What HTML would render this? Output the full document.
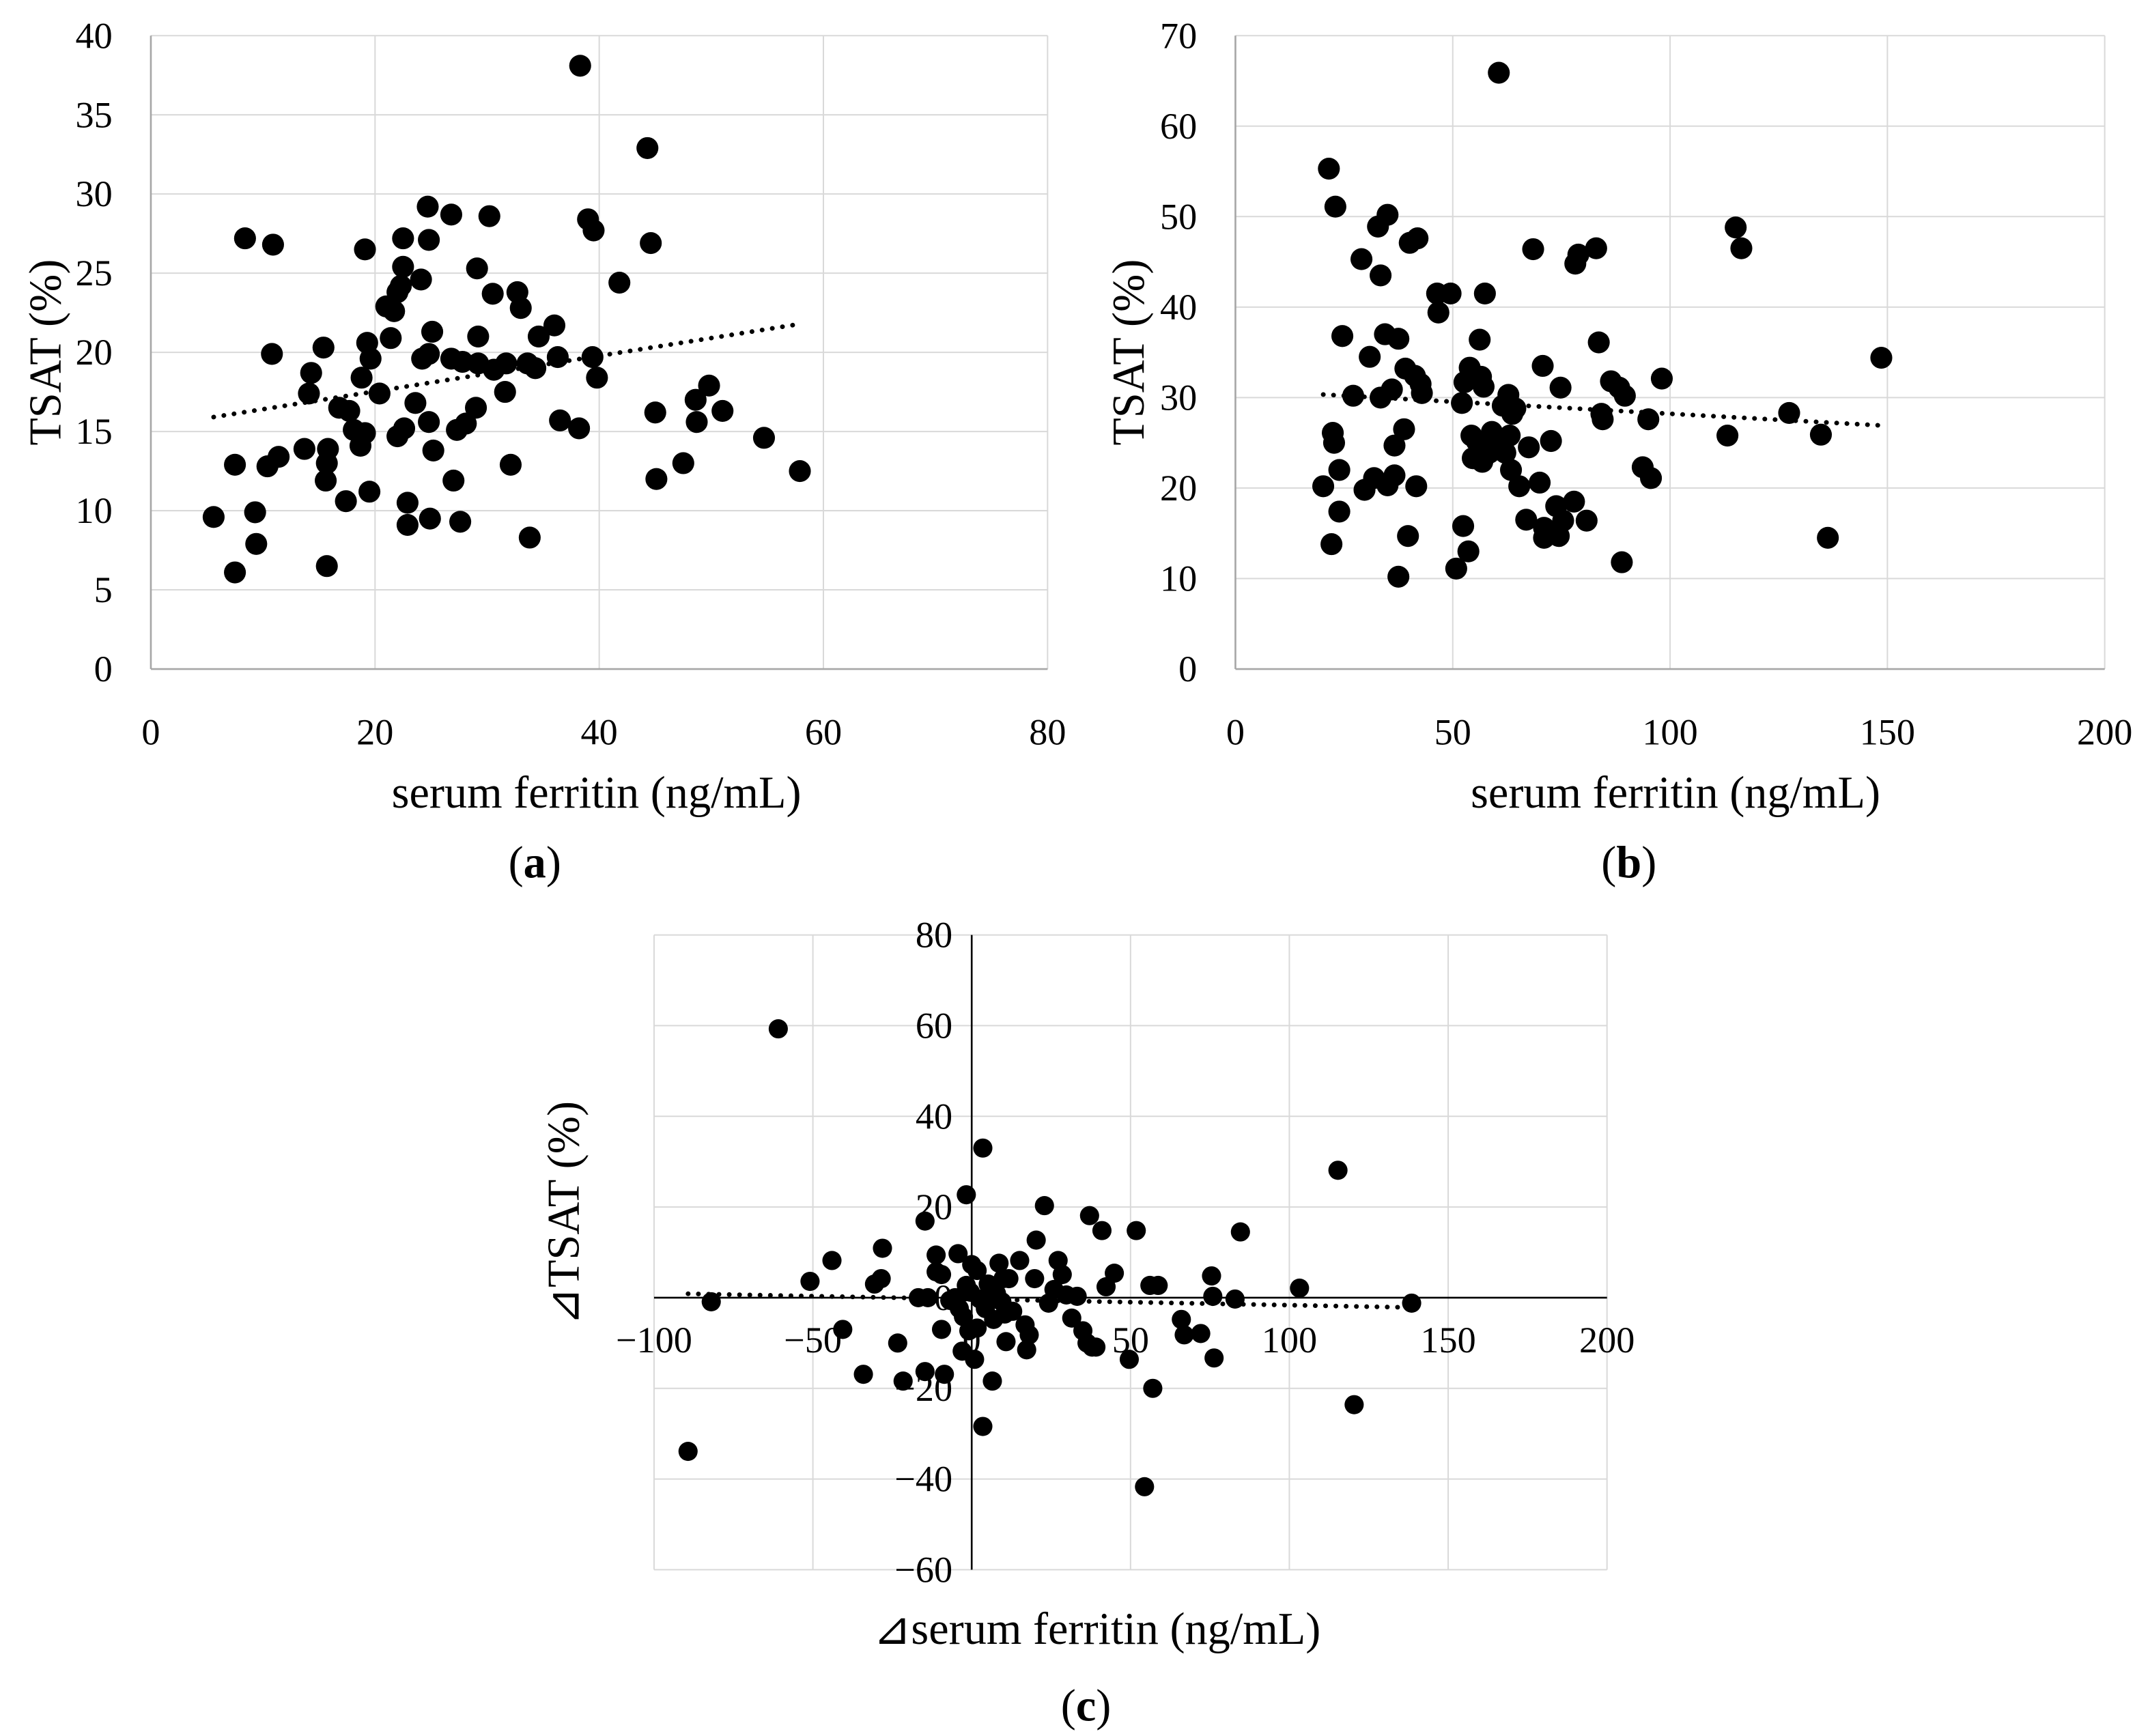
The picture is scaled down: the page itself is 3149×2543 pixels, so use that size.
<!DOCTYPE html>
<html><head><meta charset="utf-8"><style>
html,body{margin:0;padding:0;background:#fff}
svg{display:block;font-family:"Liberation Serif",serif}
</style></head><body>
<svg id="fig" width="3149" height="2543" viewBox="0 0 1568 1266.3" xmlns="http://www.w3.org/2000/svg"></svg>
<script>
// Panel (a) data
const aX=[5.6,7.5,7.5,8.4,9.3,9.4,10.4,10.8,10.9,11.4,13.7,14.1,14.3,15.4,15.6,15.7,15.8,15.7,16.8,17.4,17.7,18.1,18.7,18.8,19.1,19.1,19.3,19.6,19.5,20.4,21.0,21.4,21.7,22.0,22.0,22.3,22.5,22.5,22.6,22.9,22.9,23.6,24.1,24.2,24.7,24.8,24.8,24.8,24.9,25.1,25.2,26.8,26.8,27.0,27.3,27.6,27.8,28.1,29.0,29.1,29.2,29.2,30.2,30.5,30.6,31.6,31.7,32.1,32.7,33.0,33.6,33.8,34.3,34.6,36.0,36.3,36.5,38.3,38.2,39.0,39.5,39.4,39.8,41.8,44.3,44.6,45.0,45.1,47.5,48.6,48.7,49.8,51.0,54.7,57.9];
const aY=[9.6,6.1,12.9,27.2,9.9,7.9,12.8,19.9,26.8,13.4,13.9,17.4,18.7,20.3,11.9,13.0,13.9,6.5,16.5,10.6,16.3,15.1,14.1,18.4,14.9,26.5,20.6,19.6,11.2,17.4,22.9,20.9,22.6,23.8,14.7,24.2,27.2,25.4,15.2,10.5,9.1,16.8,24.6,19.6,29.2,27.1,15.6,19.9,9.5,21.3,13.8,28.7,19.6,11.9,15.1,9.3,19.4,15.5,16.5,25.3,21.0,19.3,28.6,23.7,18.9,17.5,19.3,12.9,23.8,22.8,19.3,8.3,19.0,21.0,21.7,19.7,15.7,38.1,15.2,28.4,27.7,19.7,18.4,24.4,32.9,26.9,16.2,12.0,13.0,17.0,15.6,17.9,16.3,14.6,12.5];
const aXTicks=[0,20,40,60,80];
const aYTicks=[0,5,10,15,20,25,30,35,40];
// Panel (b) data
const bX=[20.2,21.5,22.1,22.4,22.7,23.0,23.9,23.9,24.6,27.1,29.0,29.7,30.9,31.9,32.8,33.4,33.4,34.4,35.0,35.0,36.0,36.6,36.6,37.5,37.5,38.8,39.1,39.7,40.1,41.3,41.6,41.9,42.6,42.9,46.4,46.7,49.5,50.8,52.1,52.4,52.7,53.6,53.9,54.3,54.6,55.5,56.2,56.5,56.8,57.1,57.4,57.4,58.4,59.0,59.6,60.6,61.5,62.1,62.8,63.1,63.4,63.7,64.4,65.3,66.9,67.5,68.5,70.0,70.7,71.0,71.0,72.6,73.8,74.4,74.8,75.4,77.9,78.2,78.9,80.8,83.0,83.6,84.2,84.5,86.4,88.3,88.9,89.6,93.7,95.0,95.6,98.1,113.2,115.1,116.4,127.4,134.7,136.3,148.6];
const bY=[20.2,55.3,13.8,26.1,25.0,51.1,22.0,17.4,36.8,30.2,45.3,19.8,34.5,21.1,48.9,43.5,30.0,37.0,50.2,20.3,30.9,24.7,21.4,36.5,10.2,26.5,33.2,14.7,47.1,32.4,20.2,47.6,31.5,30.5,41.5,39.4,41.5,11.1,29.4,15.8,31.7,13.0,33.3,25.8,23.3,25.2,36.4,32.3,22.9,31.2,41.5,25.0,23.9,26.2,24.4,65.9,29.1,23.9,30.3,25.8,22.0,28.2,28.8,20.2,16.5,24.5,46.4,20.6,33.5,14.5,15.6,25.2,18.0,14.7,31.1,16.4,18.5,44.8,45.8,16.4,46.5,36.1,28.2,27.6,31.8,31.1,11.8,30.2,22.3,27.6,21.1,32.1,25.8,48.8,46.5,28.3,25.9,14.5,34.4];
const bXTicks=[0,50,100,150,200];
const bYTicks=[0,10,20,30,40,50,60,70];
// Panel (c) data
const cX=[-89.3,-82,-60.9,-50.9,-44,-40.6,-34.1,-30.6,-28.5,-28.1,-23.3,-21.6,-16.8,-14.7,-14.7,-13.8,-11.2,-11.2,-9.5,-8.6,-9.5,-6.9,-5.2,-4.3,-3.9,-3.0,-2.6,-1.7,-1.7,-0.9,-0.4,0,0.9,1.7,1.7,2.6,3.5,3.5,4.3,5.2,5.6,6.5,6.9,7.8,8.6,9.5,9.9,10.4,10.8,11.7,12.9,15.1,16.8,17.3,18.1,19.8,20.3,22.9,24.2,25.9,27.2,28.5,29.8,31.5,33.2,35.0,36.3,37.1,37.9,39.1,41,42.3,44.9,49.6,51.8,54.4,56.1,57,58.7,66,66.9,72.1,75.5,75.9,76.3,82.9,84.6,103.2,115.3,120.4,138.5];
const cY=[-33.9,-0.9,59.3,3.6,8.2,-7.0,-16.9,3.0,4.2,10.9,-10.0,-18.4,0,16.9,-16.3,0,9.4,5.7,5.1,-16.9,-7.0,-0.6,0,9.7,-2.4,-11.8,-4.2,2.7,22.7,-7.3,1.2,7.3,-13.6,6.0,-6.7,-0.3,33.0,-28.4,-2.4,3.0,0.3,-18.4,-4.8,0.9,7.6,-0.9,4.2,-3.6,-9.7,4.2,-3.0,8.2,-6.0,-11.5,-8.2,4.2,12.7,20.3,-1.2,1.8,8.2,5.1,0.6,-4.5,0.3,-7.3,-10.0,18.1,-10.9,-10.9,14.8,2.4,5.4,-13.6,14.8,-41.7,2.7,-20,2.7,-4.8,-8.2,-7.9,4.8,0.3,-13.3,-0.3,14.5,2.1,28.1,-23.6,-1.2];
const cXTicks=[-100,-50,0,50,100,150,200];
const cYTicks=[-60,-40,-20,0,20,40,60,80];
const cXTickLabels=['\u2212100','\u221250','0','50','100','150','200'];
const cYTickLabels=['\u221260','\u221240','\u221220','0','20','40','60','80'];

const NS='http://www.w3.org/2000/svg';
const svg=document.getElementById('fig');
function mk(tag,attrs,parent,text){const e=document.createElementNS(NS,tag);for(const k in attrs)e.setAttribute(k,attrs[k]);if(text!==undefined)e.textContent=text;(parent||svg).appendChild(e);return e;}
function fit(xs,ys){const n=xs.length;let sx=0,sy=0,sxx=0,sxy=0;for(let i=0;i<n;i++){sx+=xs[i];sy+=ys[i];sxx+=xs[i]*xs[i];sxy+=xs[i]*ys[i];}const m=(n*sxy-sx*sy)/(n*sxx-sx*sx);return {m,b:(sy-m*sx)/n};}

function panel(o){
  const g=mk('g',{},svg);
  
  
  const sx=v=>o.x0+(v-o.xmin)/(o.xmax-o.xmin)*(o.x1-o.x0);
  const sy=v=>o.y0-(v-o.ymin)/(o.ymax-o.ymin)*(o.y0-o.y1);
  o.xt.forEach(t=>{const l=mk('line',{x1:sx(t),x2:sx(t),y1:o.y0,y2:o.y1,stroke:'#d9d9d9','stroke-width':1},g);});
  o.yt.forEach(t=>{const l=mk('line',{x1:o.x0,x2:o.x1,y1:sy(t),y2:sy(t),stroke:'#d9d9d9','stroke-width':1},g);});
  const ax0=o.cross?sx(0):o.x0, ay0=o.cross?sy(0):o.y0;
  const xa=mk('line',{x1:o.x0,x2:o.x1,y1:ay0,y2:ay0,stroke:o.axisColor,'stroke-width':1.3},g);
  
  const ya=mk('line',{x1:ax0,x2:ax0,y1:o.y0,y2:o.y1,stroke:o.axisColor,'stroke-width':1.3},g);
  
  o.xt.forEach((t,i)=>{const e=mk('text',{x:sx(t),y:ay0+o.xlabOff,'text-anchor':'middle','font-size':27,fill:'#000'},g,o.xl?o.xl[i]:String(t));});
  o.yt.forEach((t,i)=>{const e=mk('text',{x:ax0-o.ylabOff,y:sy(t)+9,'text-anchor':'end','font-size':27,fill:'#000'},g,o.yl?o.yl[i]:String(t));});
  const f=fit(o.xs,o.ys);const mn=Math.min(...o.xs),mx=Math.max(...o.xs);
  const tl=mk('line',{x1:sx(mn),y1:sy(f.m*mn+f.b),x2:sx(mx),y2:sy(f.m*mx+f.b),stroke:'#000','stroke-width':3.4,'stroke-dasharray':'0.1 7.4','stroke-linecap':'round'},g);
  
  o.xs.forEach((x,i)=>{const c=mk('circle',{cx:sx(x),cy:sy(o.ys[i]),r:o.r,fill:'#000'},g);});
  const xt=mk('text',{x:o.xtx,y:o.xty,'text-anchor':'middle','font-size':33,fill:'#000'},g,o.xtitle);
  
  const yt=mk('text',{x:0,y:0,'text-anchor':'middle','font-size':33,fill:'#000',transform:`translate(${o.ytx},${o.yty}) rotate(-90)`},g,o.ytitle);
  
  const cap=mk('text',{x:o.capx,y:o.capy,'text-anchor':'middle','font-size':33,fill:'#000'},g);
  
  mk('tspan',{},cap,'(');mk('tspan',{'font-weight':'bold'},cap,o.cap);mk('tspan',{},cap,')');
}
panel({name:'panel-a',xs:aX,ys:aY,xt:aXTicks,yt:aYTicks,xmin:0,xmax:80,ymin:0,ymax:40,x0:110,x1:764,y0:488,y1:26,axisColor:'#a6a6a6',xlabOff:55,ylabOff:28,r:8,xtitle:'serum ferritin (ng/mL)',xtx:435,xty:589,ytitle:'TSAT (%)',ytx:44,yty:257,cap:'a',capx:390,capy:640});
panel({name:'panel-b',xs:bX,ys:bY,xt:bXTicks,yt:bYTicks,xmin:0,xmax:200,ymin:0,ymax:70,x0:901,x1:1535,y0:488,y1:26,axisColor:'#a6a6a6',xlabOff:55,ylabOff:28,r:8,xtitle:'serum ferritin (ng/mL)',xtx:1222,xty:589,ytitle:'TSAT (%)',ytx:834,yty:257,cap:'b',capx:1188,capy:640});
panel({name:'panel-c',xs:cX,ys:cY,xt:cXTicks,yt:cYTicks,xl:cXTickLabels,yl:cYTickLabels,xmin:-100,xmax:200,ymin:-60,ymax:80,x0:477,x1:1172,y0:1145,y1:682,cross:true,axisColor:'#000',xlabOff:40,ylabOff:14,r:7,xtitle:'\u22BFserum ferritin (ng/mL)',xtx:800,xty:1199,ytitle:'\u22BFTSAT (%)',ytx:422,yty:885,cap:'c',capx:792,capy:1255});
</script>
</body></html>
